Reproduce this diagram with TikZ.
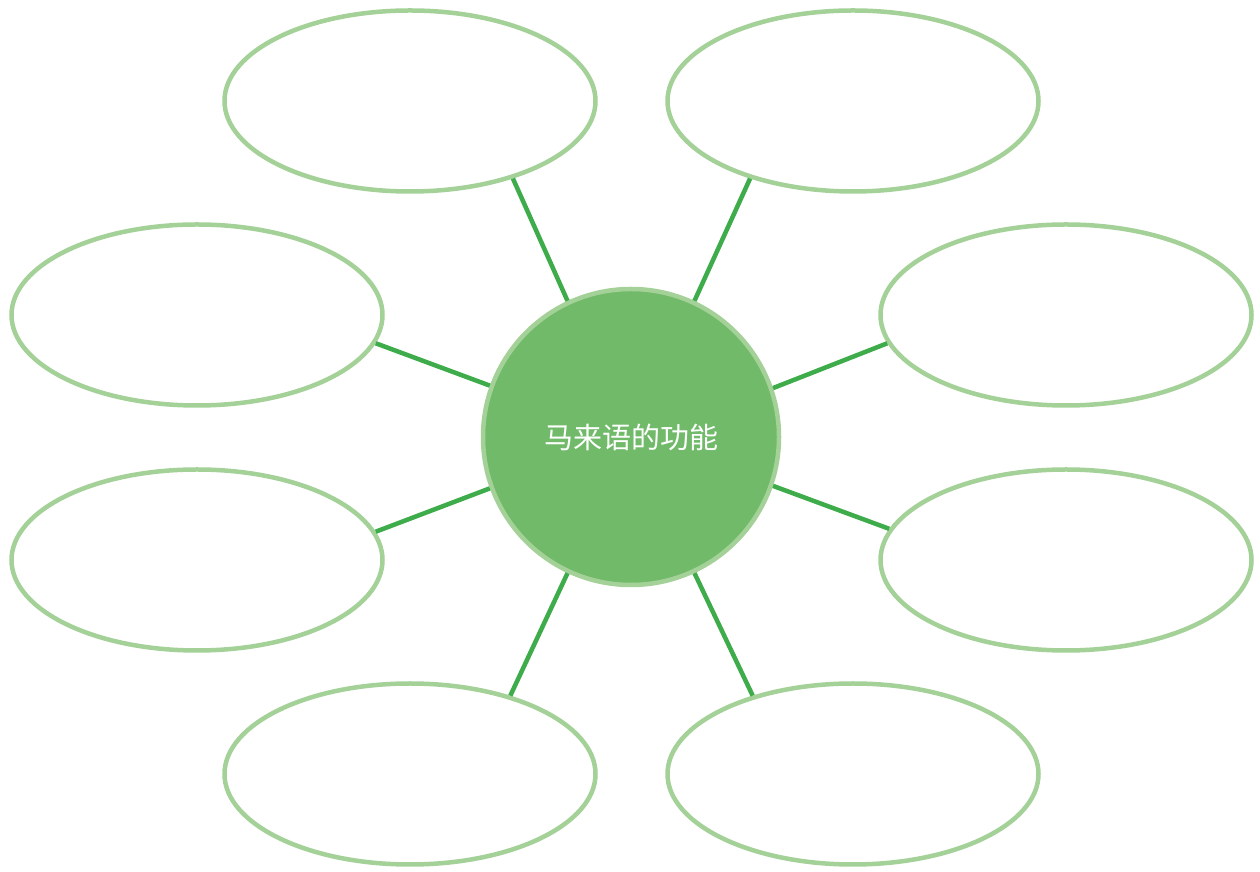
\documentclass[tikz,border=0pt]{standalone}
\usepackage{fontspec}
\newfontfamily\cjk{Noto Sans CJK SC}
\usetikzlibrary{shapes.geometric}
\definecolor{rimgreen}{HTML}{A3D197}
\definecolor{fillgreen}{HTML}{70BA6A}
\definecolor{linkgreen}{HTML}{3EAC4A}
\tikzset{
  leaf/.style={ellipse, draw=rimgreen, line width=4.5pt, fill=white, minimum width=371pt, minimum height=181pt, inner sep=0pt},
  hub/.style={circle, draw=rimgreen, line width=4.5pt, fill=fillgreen, minimum size=296pt, inner sep=0pt, text=white, font=\cjk\fontsize{29}{34}\selectfont},
  link/.style={draw=linkgreen, line width=4.5pt}
}
\begin{document}
\begin{tikzpicture}[x=1pt,y=1pt]
\useasboundingbox (0,0) rectangle (1260,872);
\node[hub] (c) at (631,435) {马来语的功能};
\node[leaf] (tl) at (410,771) {};
\node[leaf] (tr) at (853,771) {};
\node[leaf] (ml) at (197,557) {};
\node[leaf] (mr) at (1066,557) {};
\node[leaf] (ll) at (197,312) {};
\node[leaf] (lr) at (1066,312) {};
\node[leaf] (bl) at (410,98) {};
\node[leaf] (br) at (853,98) {};
\draw[link] (c.115) -- (tl.-37.7);
\draw[link] (c.65) -- (tr.217.7);
\draw[link] (c.160.1) -- (ml.-9.5);
\draw[link] (c.19.9) -- (mr.189.5);
\draw[link] (c.200.1) -- (ll.9.5);
\draw[link] (c.-19.9) -- (lr.170.5);
\draw[link] (c.245.5) -- (bl.38);
\draw[link] (c.-65.5) -- (br.142);
\end{tikzpicture}
\end{document}
